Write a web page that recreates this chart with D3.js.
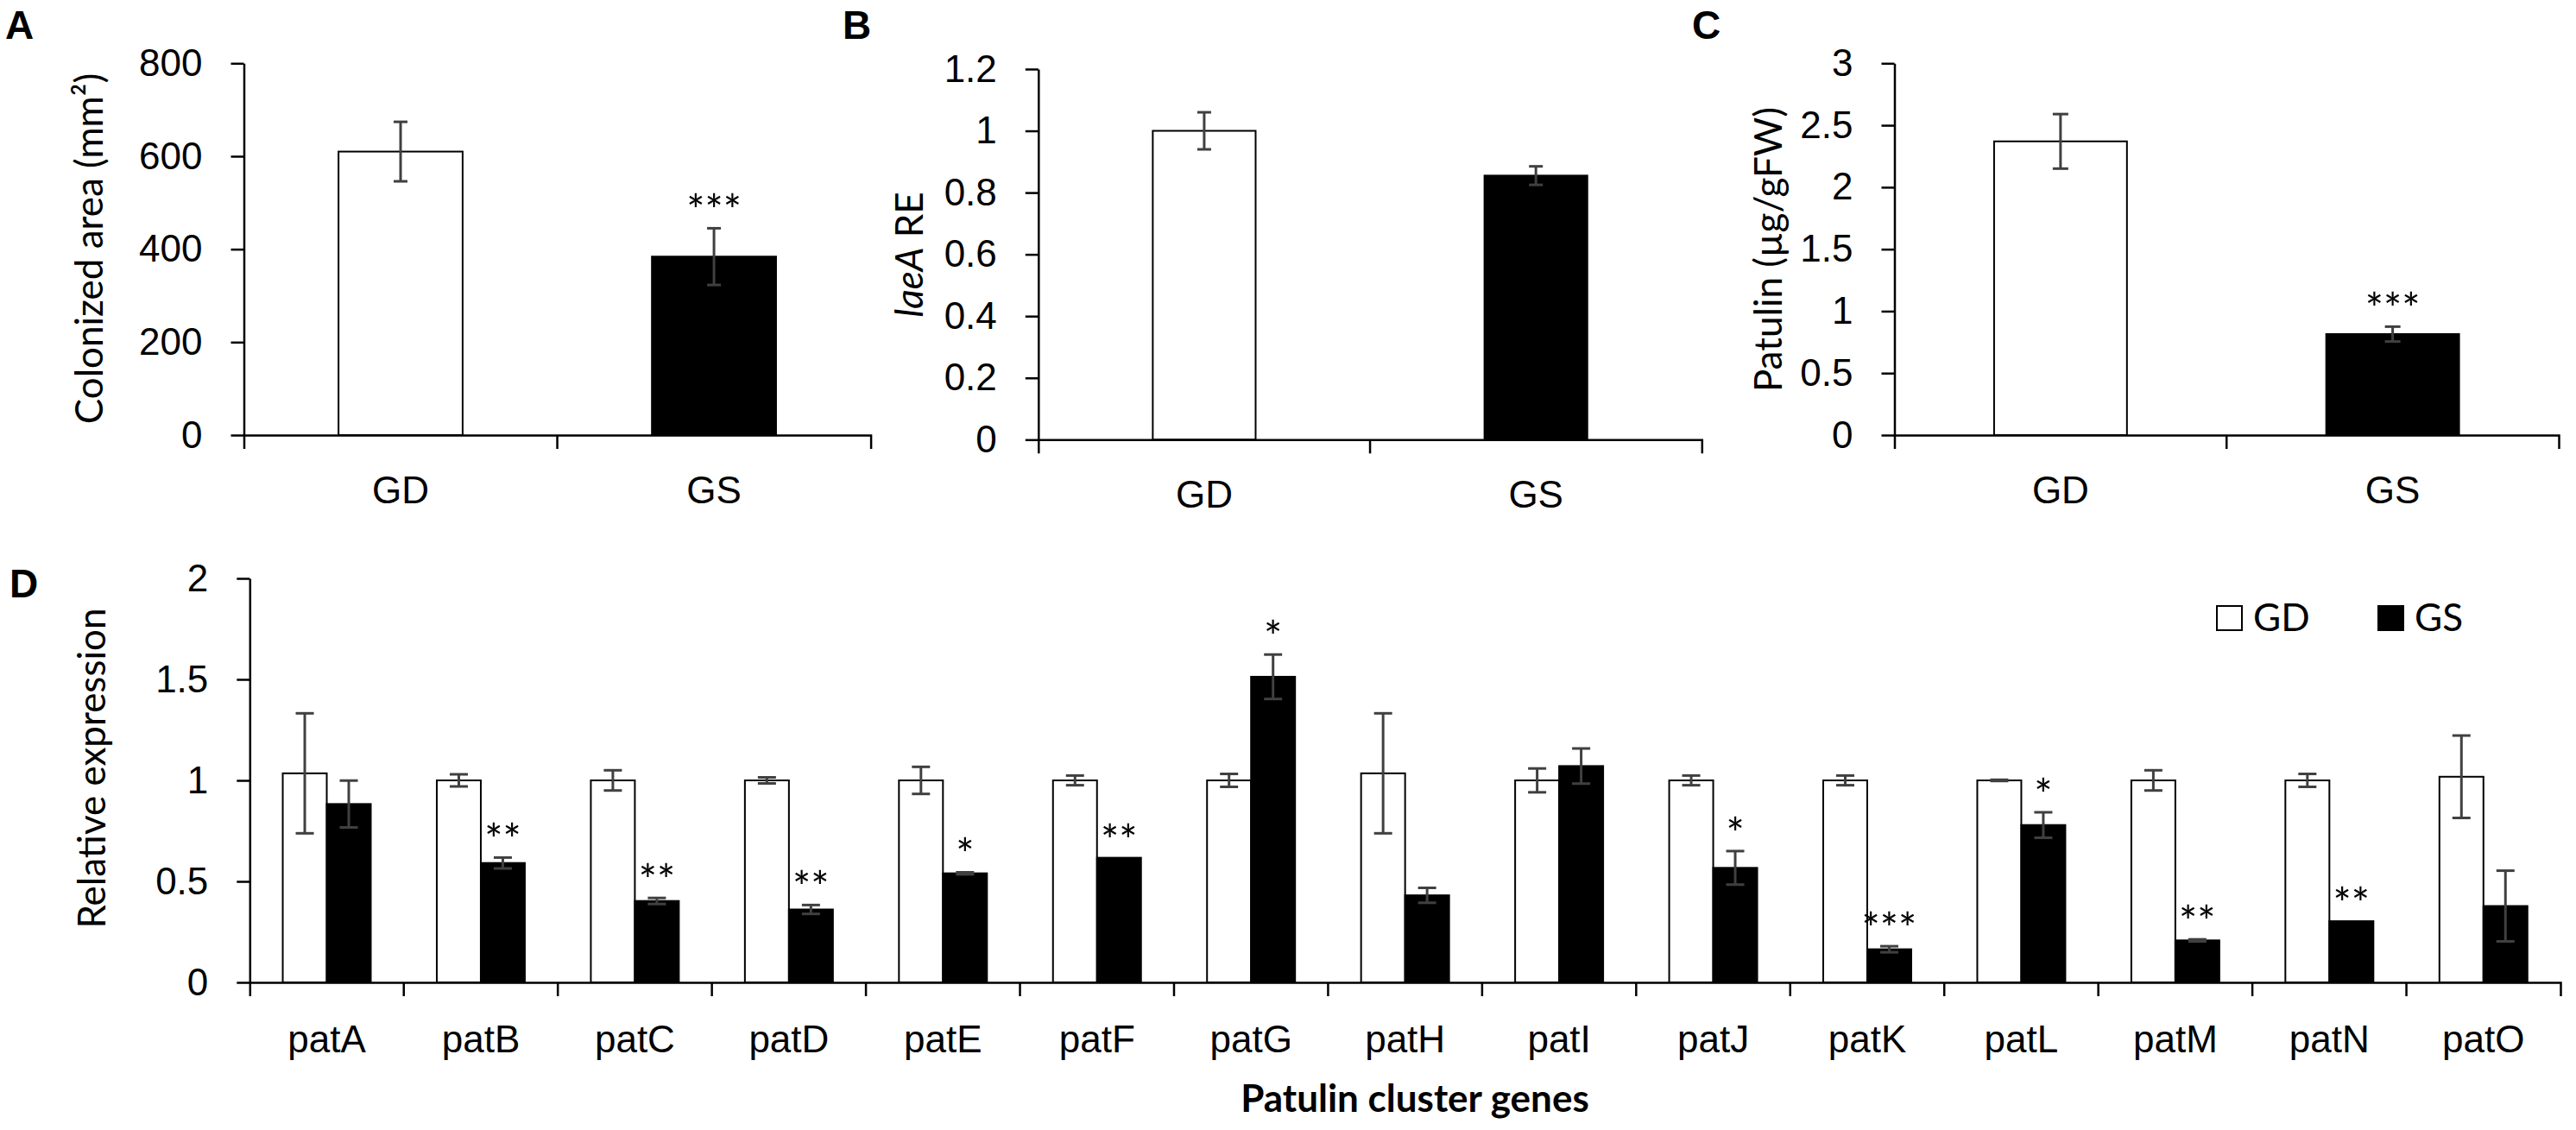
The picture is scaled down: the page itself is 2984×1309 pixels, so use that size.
<!DOCTYPE html>
<html>
<head>
<meta charset="utf-8">
<script src="https://cdn.jsdelivr.net/npm/d3@7"></script>
<style>
  body { margin: 0; background: #fff; }
</style>
</head>
<body>
<div id="fig"></div>
<script>
// ---- data ----
const topCats = ["GD", "GS"];

const areaMean = [610, 384];          // A: colonized area (mm2)
const areaErr = [64, 61];
const areaSig = ["", "***"];
const areaTicks = [0, 200, 400, 600, 800];

const laeAMean = [1.0, 0.855];        // B: laeA relative expression
const laeAErr = [0.06, 0.03];
const laeASig = ["", ""];
const laeATicks = [0, 0.2, 0.4, 0.6, 0.8, 1, 1.2];

const patulinMean = [2.37, 0.815];    // C: patulin (ug/gFW)
const patulinErr = [0.22, 0.06];
const patulinSig = ["", "***"];
const patulinTicks = [0, 0.5, 1, 1.5, 2, 2.5, 3];

const genes = ["patA", "patB", "patC", "patD", "patE", "patF", "patG", "patH",
               "patI", "patJ", "patK", "patL", "patM", "patN", "patO"];
const gdExpr = [1.035, 1, 1, 1, 1, 1, 1, 1.035, 1, 1, 1, 1, 1, 1, 1.018];
const gdExprErr = [0.297, 0.03, 0.05, 0.015, 0.067, 0.024, 0.032, 0.297, 0.059, 0.024, 0.024, 0.003, 0.05, 0.032, 0.204];
const gsExpr = [0.883, 0.591, 0.403, 0.361, 0.54, 0.617, 1.513, 0.431, 1.071, 0.567, 0.164, 0.779, 0.208, 0.303, 0.378];
const gsExprErr = [0.116, 0.027, 0.015, 0.022, 0.005, 0, 0.11, 0.037, 0.087, 0.083, 0.015, 0.063, 0.005, 0, 0.175];
const gsExprSig = ["", "**", "**", "**", "*", "**", "*", "", "", "*", "***", "*", "**", "**", ""];
const exprTicks = [0, 0.5, 1, 1.5, 2];

// ---- setup ----
const width = 2984, height = 1309;
const fontSize = 44;
const starSize = 50;
const errColor = "#404040";

const svg = d3.select("#fig")
    .append("svg")
    .attr("width", width)
    .attr("height", height)
    .style("font-family", "Lato, 'Open Sans', sans-serif");

function yAxis(g, y, ticks, left) {
    g.append("g")
        .attr("transform", `translate(${left},0)`)
        .call(d3.axisLeft(y).tickValues(ticks).tickFormat(d3.format("~g"))
            .tickSize(15).tickPadding(33).tickSizeOuter(0))
        .call(a => a.selectAll("text").style("font-size", fontSize + "px").attr("fill", "#000"))
        .call(a => a.selectAll("line, path").attr("stroke", "#000").attr("stroke-width", 2.5));
}

function xAxis(g, x, base, labelY) {
    const a = g.append("g")
        .attr("transform", `translate(0,${base})`)
        .call(d3.axisBottom(x).tickSize(0).tickSizeOuter(16).tickPadding(0));
    a.selectAll("text")
        .attr("y", labelY).attr("dy", 0)
        .style("font-size", fontSize + "px").attr("fill", "#000");
    a.select(".domain").attr("stroke", "#000").attr("stroke-width", 2.5);
    // little ticks between the categories
    a.selectAll(".sep")
        .data(x.domain().slice(1))
        .join("line")
        .attr("class", "sep")
        .attr("x1", d => x(d)).attr("x2", d => x(d))
        .attr("y1", 0).attr("y2", 16)
        .attr("stroke", "#000").attr("stroke-width", 2.5);
}

function errorBars(g, rows, y, capW) {
    const e = g.append("g").attr("stroke", errColor).attr("stroke-width", 3);
    const withErr = rows.filter(d => d.err > 0);
    e.selectAll(".v").data(withErr).join("line").attr("class", "v")
        .attr("x1", d => d.cx).attr("x2", d => d.cx)
        .attr("y1", d => y(d.mean + d.err)).attr("y2", d => y(d.mean - d.err));
    e.selectAll(".t").data(withErr).join("line").attr("class", "t")
        .attr("x1", d => d.cx - capW / 2).attr("x2", d => d.cx + capW / 2)
        .attr("y1", d => y(d.mean + d.err)).attr("y2", d => y(d.mean + d.err));
    e.selectAll(".b").data(withErr).join("line").attr("class", "b")
        .attr("x1", d => d.cx - capW / 2).attr("x2", d => d.cx + capW / 2)
        .attr("y1", d => y(d.mean - d.err)).attr("y2", d => y(d.mean - d.err));
    // significance stars
    g.append("g").selectAll("text")
        .data(rows.filter(d => d.sig))
        .join("text")
        .attr("x", d => d.cx)
        .attr("y", d => y(d.mean + d.err) - 2)
        .attr("text-anchor", "middle")
        .style("font-size", starSize + "px")
        .text(d => d.sig);
}

function yTitle(g, x, y, build) {
    const t = g.append("text")
        .attr("transform", `translate(${x},${y}) rotate(-90)`)
        .attr("text-anchor", "middle")
        .attr("dominant-baseline", "central")
        .style("font-size", fontSize + "px");
    build(t);
}

function panelLetter(x, y, s) {
    svg.append("text").attr("x", x).attr("y", y)
        .style("font-family", "'Liberation Sans', Arial, sans-serif")
        .style("font-size", "46px").style("font-weight", "bold")
        .text(s);
}

// one bar per category (panels A, B, C)
function topPanel(means, errs, sigs, ticks, x0, x1, yTop, yBase, barRatio, capW) {
    const g = svg.append("g");
    const x = d3.scaleBand().domain(topCats).range([x0, x1]).padding(0);
    const y = d3.scaleLinear().domain([0, d3.max(ticks)]).range([yBase, yTop]);
    const bw = x.bandwidth() * barRatio;
    const rows = topCats.map((c, i) => ({
        cat: c, mean: means[i], err: errs[i], sig: sigs[i],
        cx: x(c) + x.bandwidth() / 2
    }));
    g.append("g").selectAll("rect")
        .data(rows)
        .join("rect")
        .attr("x", d => d.cx - bw / 2)
        .attr("width", bw)
        .attr("y", d => y(d.mean))
        .attr("height", d => y(0) - y(d.mean))
        .attr("fill", (d, i) => i === 0 ? "#fff" : "#000")
        .attr("stroke", "#000")
        .attr("stroke-width", 2);
    errorBars(g, rows, y, capW);
    yAxis(g, y, ticks, x0);
    xAxis(g, x, yBase, 79);
    return g;
}

// ---- A ----
const gA = topPanel(areaMean, areaErr, areaSig, areaTicks, 282.5, 1008.6, 73.3, 504, 0.396, 16);
yTitle(gA, 102, 288, t => t.text("Colonized area (mm²)"));
panelLetter(6, 45, "A");

// ---- B ----
const gB = topPanel(laeAMean, laeAErr, laeASig, laeATicks, 1202.8, 1971.3, 80, 509.3, 0.31, 16);
yTitle(gB, 1052, 295, t => {
    t.append("tspan").style("font-style", "italic").text("laeA");
    t.append("tspan").text(" RE");
});
panelLetter(976, 45, "B");

// ---- C ----
const gC = topPanel(patulinMean, patulinErr, patulinSig, patulinTicks, 2194.5, 2964, 73.3, 504, 0.4, 18);
yTitle(gC, 2047, 289, t => t.text("Patulin (µg/gFW)"));
panelLetter(1960, 45, "C");

// ---- D: grouped bars ----
const gD = svg.append("g");
const x0 = d3.scaleBand().domain(genes).range([289.3, 2966]).padding(0);
const x1 = d3.scaleBand().domain(topCats).range([0, x0.bandwidth()]).paddingInner(0).paddingOuter(0.75);
const yD = d3.scaleLinear().domain([0, d3.max(exprTicks)]).range([1138, 670]);

const exprRows = [];
genes.forEach((gname, i) => {
    exprRows.push({ gene: gname, grp: "GD", mean: gdExpr[i], err: gdExprErr[i], sig: "",
                    cx: x0(gname) + x1("GD") + x1.bandwidth() / 2 });
    exprRows.push({ gene: gname, grp: "GS", mean: gsExpr[i], err: gsExprErr[i], sig: gsExprSig[i],
                    cx: x0(gname) + x1("GS") + x1.bandwidth() / 2 });
});

gD.append("g").selectAll("rect")
    .data(exprRows)
    .join("rect")
    .attr("x", d => x0(d.gene) + x1(d.grp))
    .attr("width", x1.bandwidth())
    .attr("y", d => yD(d.mean))
    .attr("height", d => yD(0) - yD(d.mean))
    .attr("fill", d => d.grp === "GD" ? "#fff" : "#000")
    .attr("stroke", "#000")
    .attr("stroke-width", 2);

errorBars(gD, exprRows, yD, 21);
yAxis(gD, yD, exprTicks, 289.3);
xAxis(gD, x0, 1138, 81);

yTitle(gD, 105, 890, t => t.text("Relative expression"));
gD.append("text")
    .attr("x", 1639).attr("y", 1288)
    .attr("text-anchor", "middle")
    .style("font-size", fontSize + "px").style("font-weight", "bold")
    .text("Patulin cluster genes");
panelLetter(11, 692, "D");

// legend
const legend = gD.append("g");
const legendItems = [
    { name: "GD", fill: "#fff", x: 2568 },
    { name: "GS", fill: "#000", x: 2755 }
];
legend.selectAll("rect").data(legendItems).join("rect")
    .attr("x", d => d.x).attr("y", 702)
    .attr("width", 29).attr("height", 28)
    .attr("fill", d => d.fill).attr("stroke", "#000").attr("stroke-width", 2);
legend.selectAll("text").data(legendItems).join("text")
    .attr("x", d => d.x + 42).attr("y", 731)
    .style("font-size", fontSize + "px")
    .text(d => d.name);
</script>
</body>
</html>
